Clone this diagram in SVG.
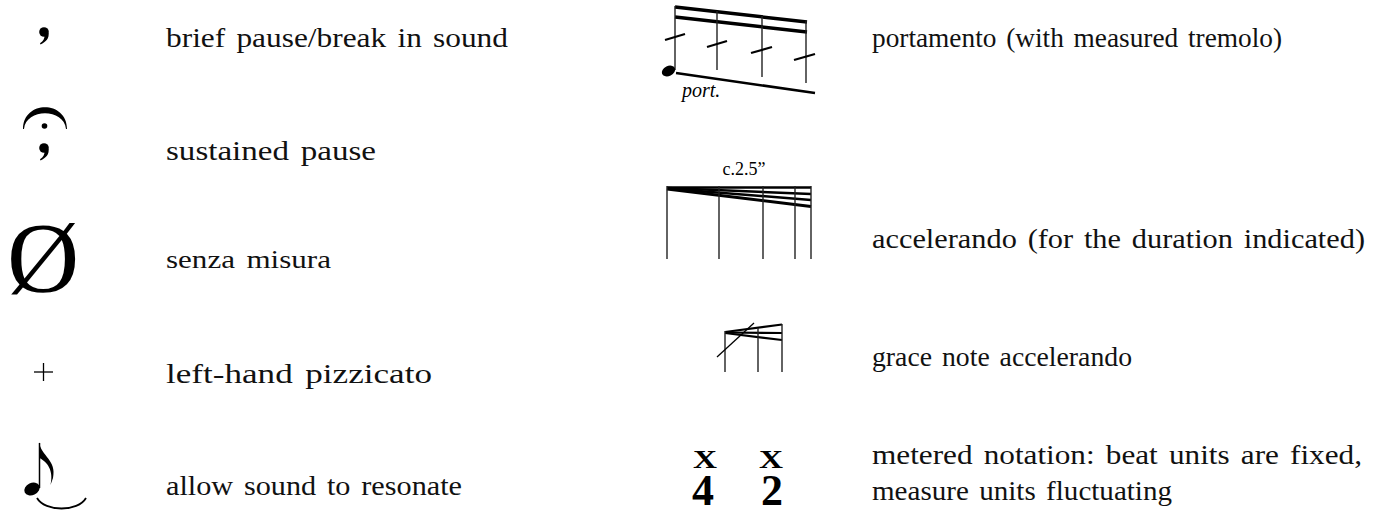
<svg xmlns="http://www.w3.org/2000/svg" width="1384" height="514" viewBox="0 0 1384 514">
<style>
.lbl{font-family:"Liberation Serif","DejaVu Serif",serif;font-size:28px;word-spacing:3px;fill:#111}
.sm{font-size:25px}
.ink{fill:#000;stroke:none}
.ln{stroke:#000;fill:none}
.stem{stroke:#222;stroke-width:1.4;fill:none}
.beam{stroke:#000;stroke-width:3.5;fill:none}
.ser{font-family:"Liberation Serif",serif;fill:#000}
</style>
<rect width="1384" height="514" fill="#fff"/>

<g id="breath">
<circle class="ink" cx="44" cy="32" r="4.8"/>
<path class="ink" d="M48.5,33 C49.5,38 46,42 40.5,44.5 L40,43.2 C43.5,41 44.8,38 44.5,35 Z"/>
<text class="lbl" x="166" y="47" textLength="342" lengthAdjust="spacingAndGlyphs">brief pause/break in sound</text>
</g>

<g id="fermata">
<path class="ink" d="M23,129 C23,100 67,100 67,129 L66,129 C64,108 26,108 24,129 Z"/>
<circle class="ink" cx="44.5" cy="126" r="2.8"/>
<circle class="ink" cx="44" cy="148" r="4.8"/>
<path class="ink" d="M48.5,149 C49.5,154 46,158 40.5,160.5 L40,159.2 C43.5,157 44.8,154 44.5,151 Z"/>
<text class="lbl" x="166" y="160" textLength="210" lengthAdjust="spacingAndGlyphs">sustained pause</text>
</g>

<g id="senza">
<text class="ser" x="43" y="291" font-size="100" text-anchor="middle">Ø</text>
<text class="lbl sm" x="166" y="268" textLength="165" lengthAdjust="spacingAndGlyphs">senza misura</text>
</g>

<g id="pizz">
<line class="ln" x1="34" y1="372" x2="53" y2="372" stroke-width="1.3"/>
<line class="ln" x1="43.5" y1="363" x2="43.5" y2="381" stroke-width="1.3"/>
<text class="lbl" x="166" y="383" textLength="266" lengthAdjust="spacingAndGlyphs">left-hand pizzicato</text>
</g>

<g id="resonate">
<ellipse class="ink" cx="32" cy="489" rx="8" ry="6" transform="rotate(-25 32 489)"/>
<line class="ln" x1="39.5" y1="443" x2="39.5" y2="488" stroke-width="1.5"/>
<path class="ink" d="M39,442 C41,456 57,460 53,478 L50.5,485 C54,470 47,462 39.5,458 Z"/>
<path class="ln" d="M37,498 C45,512 78,512 86,498" stroke-width="1.8"/>
<text class="lbl" x="166" y="495" textLength="296" lengthAdjust="spacingAndGlyphs">allow sound to resonate</text>
</g>

<g id="portamento">
<line class="beam" x1="675" y1="7" x2="807" y2="22"/>
<line class="beam" x1="675" y1="17" x2="807" y2="32"/>
<line class="stem" x1="675" y1="6" x2="675" y2="70"/>
<line class="stem" x1="717" y1="11" x2="717" y2="70"/>
<line class="stem" x1="762" y1="16" x2="762" y2="77"/>
<line class="stem" x1="806" y1="21" x2="806" y2="83"/>
<line class="ln" x1="665" y1="40" x2="685" y2="34" stroke-width="2.2"/>
<line class="ln" x1="707" y1="47" x2="727" y2="41" stroke-width="2.2"/>
<line class="ln" x1="751" y1="53" x2="772" y2="47" stroke-width="2.2"/>
<line class="ln" x1="794" y1="60" x2="815" y2="54" stroke-width="2.2"/>
<ellipse class="ink" cx="668.5" cy="71" rx="7" ry="5" transform="rotate(-25 668.5 71)"/>
<line class="ln" x1="676" y1="73" x2="815" y2="93" stroke-width="2.5"/>
<text class="ser" x="682" y="97" font-size="20" font-style="italic">port.</text>
<text class="lbl" x="872" y="47" textLength="410" lengthAdjust="spacingAndGlyphs">portamento (with measured tremolo)</text>
</g>

<g id="accelerando">
<text class="ser" x="744" y="175" font-size="18" text-anchor="middle">c.2.5”</text>
<line class="ln" x1="667" y1="187.5" x2="811" y2="187.5" stroke-width="2.5"/>
<line class="ln" x1="667" y1="188" x2="811" y2="194" stroke-width="2.5"/>
<line class="ln" x1="667" y1="188.5" x2="811" y2="200" stroke-width="2.5"/>
<line class="ln" x1="667" y1="189" x2="811" y2="206.5" stroke-width="3"/>
<line class="stem" x1="667" y1="186" x2="667" y2="259"/>
<line class="stem" x1="719" y1="186" x2="719" y2="259"/>
<line class="stem" x1="763" y1="186" x2="763" y2="259"/>
<line class="stem" x1="795" y1="186" x2="795" y2="259"/>
<line class="stem" x1="811" y1="186" x2="811" y2="259"/>
<text class="lbl" x="872" y="248" textLength="493" lengthAdjust="spacingAndGlyphs">accelerando (for the duration indicated)</text>
</g>

<g id="grace">
<line class="ln" x1="725" y1="332" x2="782" y2="324.5" stroke-width="2.2"/>
<line class="ln" x1="725" y1="332.5" x2="782" y2="333" stroke-width="2.2"/>
<line class="ln" x1="725" y1="333" x2="782" y2="340" stroke-width="2.2"/>
<line class="stem" x1="725" y1="331" x2="725" y2="372"/>
<line class="stem" x1="758" y1="328" x2="758" y2="372"/>
<line class="stem" x1="782" y1="324" x2="782" y2="372"/>
<line class="ln" x1="717" y1="357" x2="754" y2="323" stroke-width="1.3"/>
<text class="lbl" x="872" y="366" textLength="260" lengthAdjust="spacingAndGlyphs">grace note accelerando</text>
</g>

<g id="metered">
<text class="ser" x="693" y="468" font-size="25" font-weight="bold" textLength="24" lengthAdjust="spacingAndGlyphs">X</text>
<text class="ser" x="759" y="468" font-size="25" font-weight="bold" textLength="24" lengthAdjust="spacingAndGlyphs">X</text>
<text class="ser" x="703" y="505" font-size="44" font-weight="bold" text-anchor="middle">4</text>
<text class="ser" x="772" y="505" font-size="44" font-weight="bold" text-anchor="middle">2</text>
<text class="lbl" x="872" y="464" textLength="490" lengthAdjust="spacingAndGlyphs">metered notation: beat units are fixed,</text>
<text class="lbl" x="872" y="500" textLength="300" lengthAdjust="spacingAndGlyphs">measure units fluctuating</text>
</g>
</svg>
